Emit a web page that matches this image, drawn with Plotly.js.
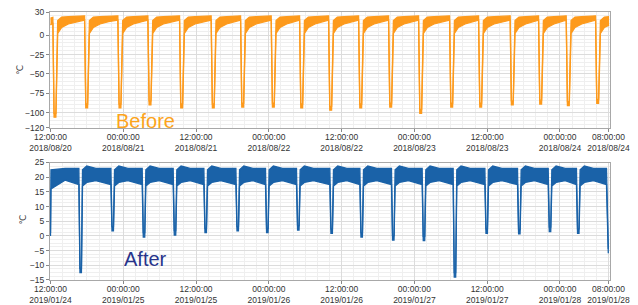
<!DOCTYPE html>
<html>
<head>
<meta charset="utf-8">
<script src="https://cdn.plot.ly/plotly-3.0.1.min.js"></script>
<style>html,body{margin:0;padding:0;background:#fff;}#chart{width:638px;height:305px;}</style>
</head>
<body>
<div id="chart"></div>
<script>
// ---- Data (hours after the first tick) ----
const topStart = '2018-08-20 12:00:00';
const botStart = '2019-01-24 12:00:00';

const topHours = [0.00,
 0.39,0.59,0.89,1.19,1.84,2.94,4.34,
 5.62,5.82,6.12,6.42,7.07,8.17,9.57,
 11.11,11.31,11.61,11.91,12.56,13.66,15.06,
 16.06,16.26,16.56,16.86,17.51,18.61,20.01,
 21.28,21.48,21.78,22.08,22.73,23.83,25.23,
 26.49,26.69,26.99,27.29,27.94,29.04,30.44,
 31.34,31.54,31.84,32.14,32.79,33.89,35.29,
 36.39,36.59,36.89,37.19,37.84,38.94,40.34,
 41.07,41.27,41.57,41.87,42.52,43.62,45.02,
 45.85,46.05,46.35,46.65,47.30,48.40,49.80,
 50.80,51.00,51.30,51.60,52.25,53.35,54.75,
 55.74,55.94,56.24,56.54,57.19,58.29,59.69,
 60.69,60.89,61.19,61.49,62.14,63.24,64.64,
 65.80,66.00,66.30,66.60,67.25,68.35,69.75,
 70.58,70.78,71.08,71.38,72.03,73.13,74.53,
 75.79,75.99,76.29,76.59,77.24,78.34,79.74,
 80.47,80.67,80.97,81.27,81.92,83.02,84.42,
 85.03,85.23,85.53,85.83,86.48,87.58,88.98,
 89.87,90.07,90.37,90.67,91.32,92.10];
const topUpper = [22,
 23,-101,-101,19,23.5,24,24.5,
 25,-89,-89,19,23.5,24,24.5,
 25,-89,-89,19,23.5,24,24.5,
 25,-85,-85,19,23.5,24,24.5,
 25,-89,-89,19,23.5,24,24.5,
 25,-89,-89,19,23.5,24,24.5,
 25,-88,-88,19,23.5,24,24.5,
 25,-88,-88,19,23.5,24,24.5,
 25,-89,-89,19,23.5,24,24.5,
 25,-92,-92,19,23.5,24,24.5,
 25,-89,-89,19,23.5,24,24.5,
 25,-88,-88,19,23.5,24,24.5,
 25,-96,-96,19,23.5,24,24.5,
 25,-88,-88,19,23.5,24,24.5,
 25,-88,-88,19,23.5,24,24.5,
 25,-85,-85,19,23.5,24,24.5,
 25,-84,-84,19,23.5,24,24.5,
 25,-86,-86,19,23.5,24,24.5,
 25,-83,-83,19,23.5,24];
const topLower = [13,
 16,-106,-106,2.5,10,14.5,17.5,
 19.5,-94,-94,2.5,10,14.5,17.5,
 19.5,-94,-94,2.5,10,14.5,17.5,
 19.5,-90,-90,2.5,10,14.5,17.5,
 19.5,-94,-94,2.5,10,14.5,17.5,
 19.5,-94,-94,2.5,10,14.5,17.5,
 19.5,-93,-93,2.5,10,14.5,17.5,
 19.5,-93,-93,2.5,10,14.5,17.5,
 19.5,-94,-94,2.5,10,14.5,17.5,
 19.5,-97,-97,2.5,10,14.5,17.5,
 19.5,-94,-94,2.5,10,14.5,17.5,
 19.5,-93,-93,2.5,10,14.5,17.5,
 19.5,-101,-101,2.5,10,14.5,17.5,
 19.5,-93,-93,2.5,10,14.5,17.5,
 19.5,-93,-93,2.5,10,14.5,17.5,
 19.5,-90,-90,2.5,10,14.5,17.5,
 19.5,-89,-89,2.5,10,14.5,17.5,
 19.5,-91,-91,2.5,10,14.5,17.5,
 19.5,-88,-88,2.5,10,13];

const botHours = [0.00,0.08,2.40,
 4.68,4.86,5.10,5.28,5.98,7.48,
 9.96,10.14,10.38,10.56,11.26,12.76,
 15.12,15.30,15.54,15.72,16.42,17.92,
 20.23,20.41,20.65,20.83,21.53,23.03,
 25.29,25.47,25.71,25.89,26.59,28.09,
 30.57,30.75,30.99,31.17,31.87,33.37,
 35.45,35.63,35.87,36.05,36.75,38.25,
 40.56,40.74,40.98,41.16,41.86,43.36,
 46.06,46.24,46.48,46.66,47.36,48.86,
 51.01,51.19,51.43,51.61,52.31,53.81,
 56.22,56.40,56.64,56.82,57.52,59.02,
 61.28,61.46,61.70,61.88,62.58,64.08,
 66.39,66.57,66.81,66.99,67.69,69.19,
 71.62,71.80,72.04,72.22,72.92,74.42,
 77.00,77.18,77.42,77.60,78.30,79.80,
 82.06,82.24,82.48,82.66,83.36,84.86,
 86.72,86.90,87.14,87.32,88.02,89.52,
 91.67,91.97];
const botUpper = [1,22.5,23,
 23,-11,-11,22.5,23.8,23,
 23,3.2,3.2,22.5,23.8,23,
 23,1.1,1.1,22.5,23.8,23,
 23,1.8,1.8,22.5,23.8,23,
 23,2.6,2.6,22.5,23.8,23,
 23,3.2,3.2,22.5,23.8,23,
 23,2.6,2.6,22.5,23.8,23,
 23,3.5,3.5,22.5,23.8,23,
 23,2.4,2.4,22.5,23.8,23,
 23,1.1,1.1,22.5,23.8,23,
 23,0.1,0.1,22.5,23.8,23,
 23,-0.1,-0.1,22.5,23.8,23,
 23,-12.5,-12.5,22.5,23.8,23,
 23,2.4,2.4,22.5,23.8,23,
 23,2.2,2.2,22.5,23.8,23,
 23,3.0,3.0,22.5,23.8,23,
 23,2.4,2.4,22.5,23.8,23,
 23,-4.4];
const botLower = [0,16,19,
 17.5,-12.5,-12.5,17,18.2,18.8,
 17.5,1.7,1.7,17,18.2,18.8,
 17.5,-0.4,-0.4,17,18.2,18.8,
 17.5,0.3,0.3,17,18.2,18.8,
 17.5,1.1,1.1,17,18.2,18.8,
 17.5,1.7,1.7,17,18.2,18.8,
 17.5,1.1,1.1,17,18.2,18.8,
 17.5,2.0,2.0,17,18.2,18.8,
 17.5,0.9,0.9,17,18.2,18.8,
 17.5,-0.4,-0.4,17,18.2,18.8,
 17.5,-1.4,-1.4,17,18.2,18.8,
 17.5,-1.6,-1.6,17,18.2,18.8,
 17.5,-14,-14,17,18.2,18.8,
 17.5,0.9,0.9,17,18.2,18.8,
 17.5,0.7,0.7,17,18.2,18.8,
 17.5,1.5,1.5,17,18.2,18.8,
 17.5,0.9,0.9,17,18.2,18.8,
 17.5,-5.9];

const topTickVals = ['2018-08-20 12:00','2018-08-21 00:00','2018-08-21 12:00','2018-08-22 00:00','2018-08-22 12:00','2018-08-23 00:00','2018-08-23 12:00','2018-08-24 00:00','2018-08-24 08:00'];
const topTickText = ['12:00:00<br>2018/08/20','00:00:00<br>2018/08/21','12:00:00<br>2018/08/21','00:00:00<br>2018/08/22','12:00:00<br>2018/08/22','00:00:00<br>2018/08/23','12:00:00<br>2018/08/23','00:00:00<br>2018/08/24','08:00:00<br>2018/08/24'];
const botTickVals = ['2019-01-24 12:00','2019-01-25 00:00','2019-01-25 12:00','2019-01-26 00:00','2019-01-26 12:00','2019-01-27 00:00','2019-01-27 12:00','2019-01-28 00:00','2019-01-28 08:00'];
const botTickText = ['12:00:00<br>2019/01/24','00:00:00<br>2019/01/25','12:00:00<br>2019/01/25','00:00:00<br>2019/01/26','12:00:00<br>2019/01/26','00:00:00<br>2019/01/27','12:00:00<br>2019/01/27','00:00:00<br>2019/01/28','08:00:00<br>2019/01/28'];
const topYTicks = [30,0,-25,-50,-75,-100,-120];
const botYTicks = [25,20,15,10,5,0,-5,-10,-15];
const unitLabel = '℃';

// ---- helpers ----
function toMs(s){ const p = s.split(/[- :]/).map(Number); return Date.UTC(p[0],p[1]-1,p[2],p[3]||0,p[4]||0,p[5]||0); }
function fmt(ms){ return new Date(ms).toISOString().replace('T',' ').replace('Z',''); }
function hoursToDates(start, hrs){ const b = toMs(start); return hrs.map(h => fmt(b + h*3600000)); }

const topX = hoursToDates(topStart, topHours);
const botX = hoursToDates(botStart, botHours);

const ORANGE = '#fd9a1c', BLUE = '#1a62a8';
const traces = [
  {x: topX, y: topLower, xaxis:'x', yaxis:'y', mode:'lines', line:{color:ORANGE, width:1.3}, hoverinfo:'skip'},
  {x: topX, y: topUpper, xaxis:'x', yaxis:'y', mode:'lines', line:{color:ORANGE, width:1.3}, fill:'tonexty', fillcolor:ORANGE, hoverinfo:'skip'},
  {x: botX, y: botLower, xaxis:'x2', yaxis:'y2', mode:'lines', line:{color:BLUE, width:1.3}, hoverinfo:'skip'},
  {x: botX, y: botUpper, xaxis:'x2', yaxis:'y2', mode:'lines', line:{color:BLUE, width:1.3}, fill:'tonexty', fillcolor:BLUE, hoverinfo:'skip'}
];

const tickFont = {family:'Liberation Sans, Arial, sans-serif', size:8.5, color:'#333'};
function xAxis(start, tv, tt, anchor){
  return {type:'date', anchor:anchor, domain:[0,1],
    range:[fmt(toMs(start) - 0.08*3600000), fmt(toMs(start) + 92.25*3600000)],
    tickmode:'array', tickvals:tv, ticktext:tt, tickfont:tickFont,
    ticks:'outside', ticklen:3, tickcolor:'#888', ticklabelstandoff:-2,
    showline:true, mirror:true, linecolor:'#a8a8a8', linewidth:1,
    showgrid:true, gridcolor:'#dcdcdc', zeroline:false,
    minor:{tick0:start, dtick:7200000, showgrid:true, gridcolor:'#efefef'}};
}
function yAxis(domain, range, tv, anchor, minorStep){
  return {anchor:anchor, domain:domain, range:range, tickmode:'array', tickvals:tv,
    tickfont:tickFont, ticks:'outside', ticklen:3, tickcolor:'#888',
    showline:true, mirror:true, linecolor:'#a8a8a8', linewidth:1,
    showgrid:true, gridcolor:'#dcdcdc', zeroline:false,
    minor:{tick0:0, dtick:minorStep, showgrid:true, gridcolor:'#efefef'}};
}

const unitFont = {family:'DejaVu Sans, sans-serif', size:9, color:'#333'};
const layout = {
  width:638, height:305, margin:{l:50, r:28, t:12, b:25},
  paper_bgcolor:'#ffffff', plot_bgcolor:'#ffffff', showlegend:false,
  font:tickFont,
  xaxis: xAxis(topStart, topTickVals, topTickText, 'y'),
  yaxis: yAxis([0.5672,1], [-120,30], topYTicks, 'x', 5),
  xaxis2: xAxis(botStart, botTickVals, botTickText, 'y2'),
  yaxis2: yAxis([0,0.4384], [-15,25], botYTicks, 'x2', 1.25),
  annotations:[
    {text:'Before', xref:'paper', yref:'paper', x:0.171, y:0.593, xanchor:'center', yanchor:'middle', showarrow:false,
     font:{family:'Liberation Sans, Arial, sans-serif', size:20, color:'#fca41c'}},
    {text:'After', xref:'paper', yref:'paper', x:0.171, y:0.078, xanchor:'center', yanchor:'middle', showarrow:false,
     font:{family:'Liberation Sans, Arial, sans-serif', size:20, color:'#27348b'}},
    {text:unitLabel, xref:'paper', yref:'paper', x:-0.0536, y:0.7836, xanchor:'center', yanchor:'middle', textangle:-90, showarrow:false, font:unitFont},
    {text:unitLabel, xref:'paper', yref:'paper', x:-0.0488, y:0.2239, xanchor:'center', yanchor:'middle', textangle:-90, showarrow:false, font:unitFont}
  ]
};

Plotly.newPlot('chart', traces, layout, {staticPlot:true, displayModeBar:false});
</script>
</body>
</html>
